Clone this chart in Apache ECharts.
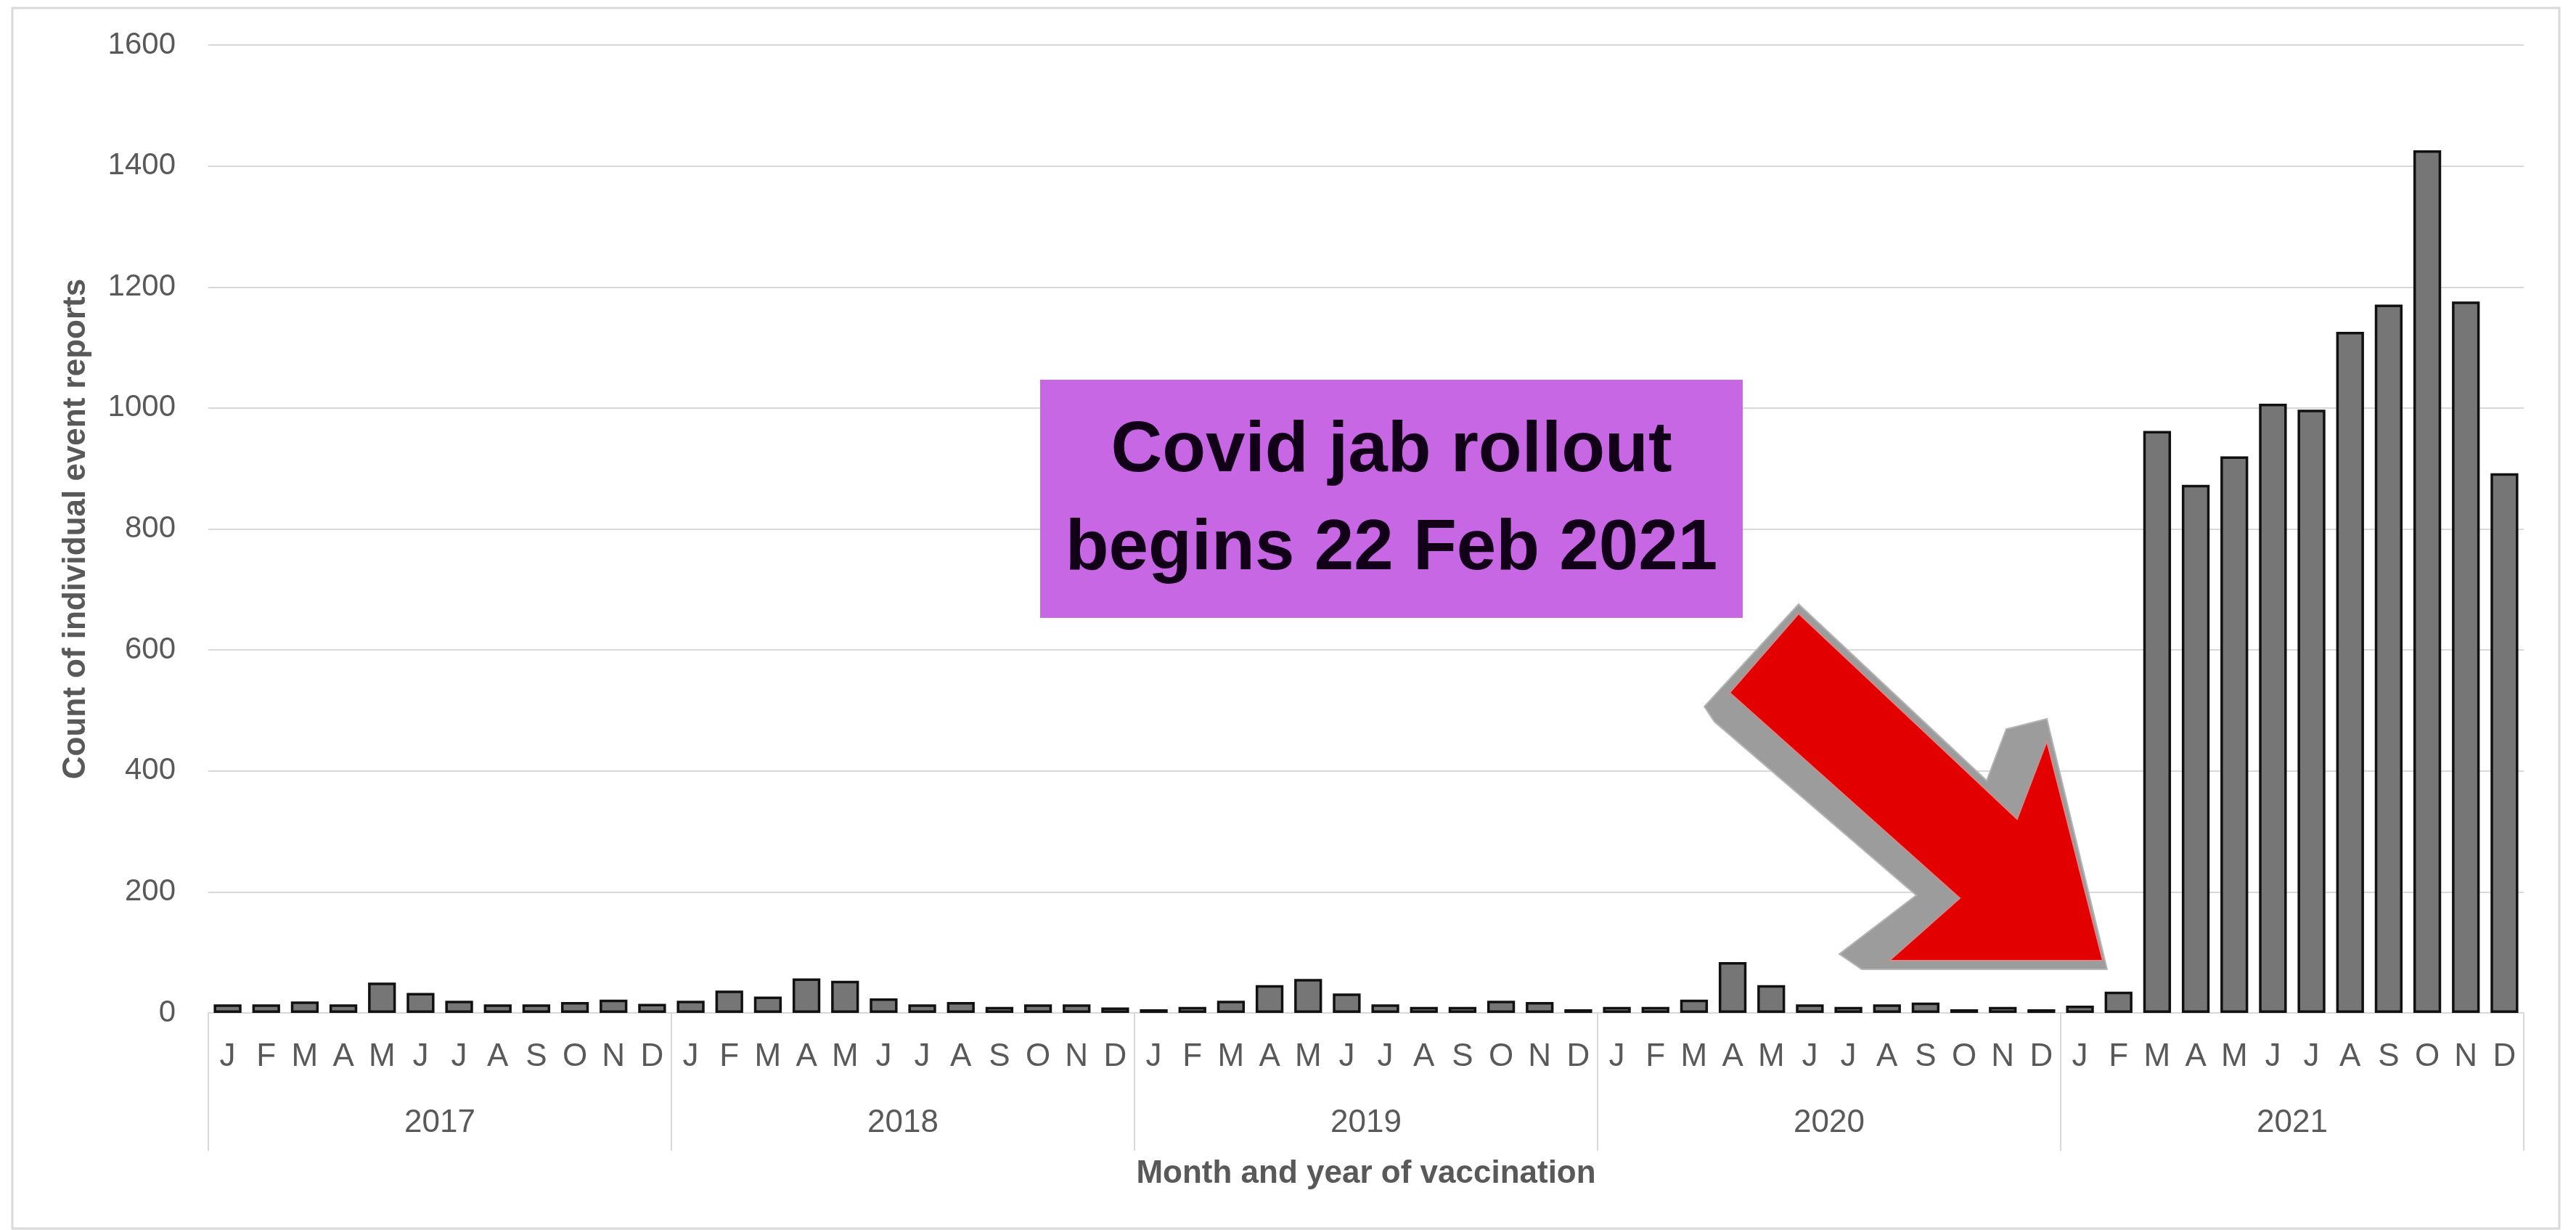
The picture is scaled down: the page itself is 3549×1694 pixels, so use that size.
<!DOCTYPE html>
<html>
<head>
<meta charset="utf-8">
<script src="https://cdn.jsdelivr.net/npm/echarts@6/dist/echarts.min.js"></script>
<style>
html,body{margin:0;padding:0;background:#fff;}
#chart{width:3549px;height:1694px;}
</style>
</head>
<body>
<div id="chart"></div>
<script>
// ---- data ----
const years = ['2017', '2018', '2019', '2020', '2021'];
const months = ['J', 'F', 'M', 'A', 'M', 'J', 'J', 'A', 'S', 'O', 'N', 'D'];
const v2017 = [14, 14, 19, 14, 50, 33, 20, 14, 14, 18, 22, 15];
const v2018 = [20, 37, 27, 57, 53, 24, 14, 18, 10, 14, 14, 9];
const v2019 = [6, 10, 20, 46, 56, 32, 14, 10, 10, 20, 18, 6];
const v2020 = [10, 10, 22, 84, 46, 14, 10, 14, 17, 6, 10, 6];
const v2021 = [12, 35, 962, 873, 920, 1007, 997, 1126, 1171, 1426, 1176, 892];
const yTicks = [0, 200, 400, 600, 800, 1000, 1200, 1400, 1600];
const yTitle = 'Count of individual event reports';
const xTitle = 'Month and year of vaccination';
const noteLines = ['Covid jab rollout', 'begins 22 Feb 2021'];

const categories = [];
years.forEach(y => months.forEach((m, i) => categories.push(y + '|' + i + '|' + m)));
const values = [].concat(v2017, v2018, v2019, v2020, v2021);

const FONT = 'Liberation Sans';
const GREY_TXT = '#595959';
const GRID_C = '#d9d9d9';

const chart = echarts.init(document.getElementById('chart'), null, {renderer: 'canvas'});
chart.setOption({
  backgroundColor: '#ffffff',
  animation: false,
  textStyle: {fontFamily: FONT},
  grid: {left: 287, right: 72, top: 62, bottom: 299, containLabel: false},
  xAxis: [
    {
      type: 'category',
      data: categories,
      boundaryGap: true,
      axisLine: {show: true, lineStyle: {color: GRID_C, width: 2}},
      axisTick: {show: false},
      axisLabel: {
        interval: 0, margin: 39, color: GREY_TXT, fontSize: 44, fontFamily: FONT,
        formatter: v => v.split('|')[2]
      },
      splitLine: {show: false}
    },
    {
      type: 'category',
      data: years,
      position: 'bottom',
      boundaryGap: true,
      axisLine: {show: false},
      axisTick: {show: true, length: 190, lineStyle: {color: GRID_C, width: 2}},
      axisLabel: {interval: 0, margin: 130, color: GREY_TXT, fontSize: 44, fontFamily: FONT},
      name: xTitle,
      nameLocation: 'middle',
      nameGap: 200,
      nameTextStyle: {color: GREY_TXT, fontSize: 44, fontWeight: 'bold', fontFamily: FONT},
      splitLine: {show: false}
    }
  ],
  yAxis: {
    type: 'value',
    min: yTicks[0],
    max: yTicks[yTicks.length - 1],
    interval: yTicks[1] - yTicks[0],
    axisLine: {show: false},
    axisTick: {show: false},
    axisLabel: {color: GREY_TXT, fontSize: 42, margin: 45, fontFamily: FONT, formatter: v => String(v)},
    splitLine: {show: true, lineStyle: {color: GRID_C, width: 2}},
    name: yTitle,
    nameLocation: 'middle',
    nameGap: 160,
    nameRotate: 90,
    nameTextStyle: {color: GREY_TXT, fontSize: 44, fontWeight: 'bold', fontFamily: FONT}
  },
  series: [{
    type: 'bar',
    xAxisIndex: 0,
    data: values,
    barCategoryGap: '28%',
    itemStyle: {color: '#767676', borderColor: '#111111', borderWidth: 3.5}
  }],
  graphic: [
    {
      type: 'rect', z: 1, silent: true,
      shape: {x: 17, y: 11, width: 3509, height: 1681},
      style: {fill: 'none', stroke: GRID_C, lineWidth: 3}
    },
    {
      type: 'rect', z: 100,
      shape: {x: 1433, y: 523, width: 968, height: 328},
      style: {fill: '#c867e4'}
    },
    {
      type: 'text', z: 101, x: 1917, y: 622,
      style: {text: noteLines[0], fill: '#120018', font: 'bold 98px "Liberation Sans"', textAlign: 'center', textVerticalAlign: 'middle'}
    },
    {
      type: 'text', z: 101, x: 1917, y: 757,
      style: {text: noteLines[1], fill: '#120018', font: 'bold 98px "Liberation Sans"', textAlign: 'center', textVerticalAlign: 'middle'}
    },
    {
      type: 'polygon', z: 100,
      shape: {points: [[2478, 832], [2737, 1075], [2764, 1004], [2820, 990], [2903, 1335], [2565, 1335], [2534, 1314], [2640, 1233], [2362, 994], [2348, 973]]},
      style: {fill: '#9c9c9c', stroke: '#b5b5b5', lineWidth: 2}
    },
    {
      type: 'polygon', z: 101,
      shape: {points: [[2478, 845], [2779, 1128], [2820, 1021], [2897, 1323], [2603, 1323], [2700, 1237], [2383, 954]]},
      style: {fill: '#e30000', stroke: '#d08a8a', lineWidth: 2}
    }
  ]
});
</script>
</body>
</html>
